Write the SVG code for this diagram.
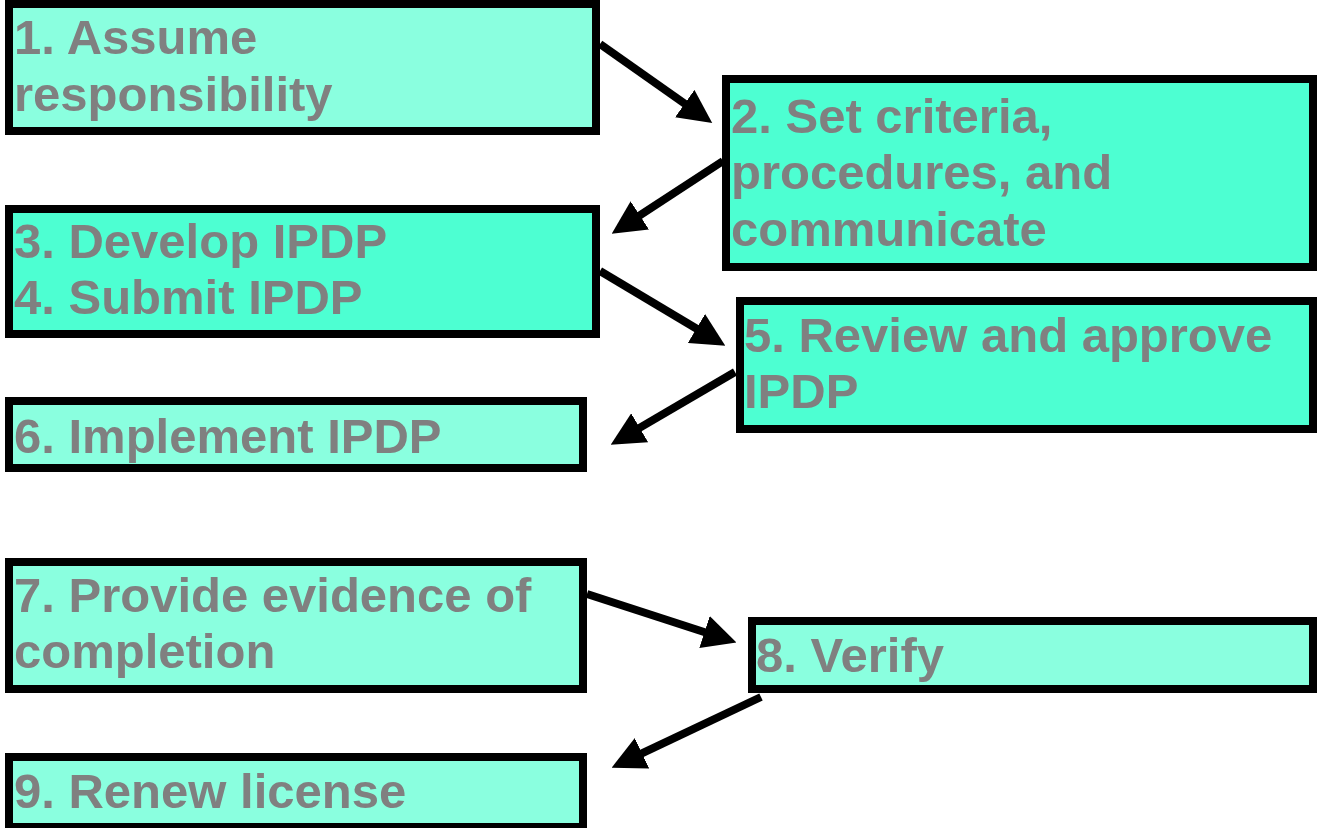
<svg xmlns="http://www.w3.org/2000/svg" width="1319" height="828" viewBox="0 0 1319 828">
<defs>
<style>
.box{stroke:#000;stroke-width:8}
.lt{fill:#8affdf}
.dk{fill:#4dffd2}
text{font-family:"Liberation Sans",Arial,sans-serif;font-weight:bold;font-size:49px;fill:#808080}
.conn line{stroke:#000;stroke-width:8;marker-end:url(#ah)}
</style>
<marker id="ah" viewBox="0 0 10 10" refX="3" refY="5" markerWidth="4.2" markerHeight="4.2" markerUnits="strokeWidth" orient="auto">
<path d="M0,0 L10,5 L0,10 z" fill="#000"/>
</marker>
</defs>
<rect width="1319" height="828" fill="#fff"/>
<g id="n1"><rect class="box lt" x="9" y="4" width="587" height="127"/><text x="14" y="54">1. Assume</text><text x="14" y="111">responsibility</text></g>
<g id="n2"><rect class="box dk" x="726" y="79" width="587" height="188"/><text x="731" y="133">2. Set criteria,</text><text x="731" y="189">procedures, and</text><text x="731" y="246">communicate</text></g>
<g id="n3"><rect class="box dk" x="9" y="209" width="587" height="125"/><text x="14" y="258">3. Develop IPDP</text><text x="14" y="314">4. Submit IPDP</text></g>
<g id="n5"><rect class="box dk" x="740" y="301" width="573" height="128"/><text x="744" y="352">5. Review and approve</text><text x="744" y="408">IPDP</text></g>
<g id="n6"><rect class="box lt" x="9" y="401" width="574" height="67"/><text x="14" y="453">6. Implement IPDP</text></g>
<g id="n7"><rect class="box lt" x="9" y="562" width="574" height="127"/><text x="14" y="612">7. Provide evidence of</text><text x="14" y="668">completion</text></g>
<g id="n8"><rect class="box lt" x="752" y="621" width="561" height="68"/><text x="756" y="672">8. Verify</text></g>
<g id="n9"><rect class="box lt" x="9" y="757" width="574" height="70"/><text x="14" y="808">9. Renew license</text></g>
<g id="connectors" class="conn">
<line x1="600" y1="44" x2="693" y2="109.4"/>
<line x1="723" y1="161" x2="631.4" y2="220.9"/>
<line x1="600" y1="271" x2="705.1" y2="333.7"/>
<line x1="735" y1="372" x2="631" y2="432.9"/>
<line x1="587" y1="594" x2="714.1" y2="635.2"/>
<line x1="761" y1="697" x2="632.9" y2="757.6"/>
</g>
</svg>
